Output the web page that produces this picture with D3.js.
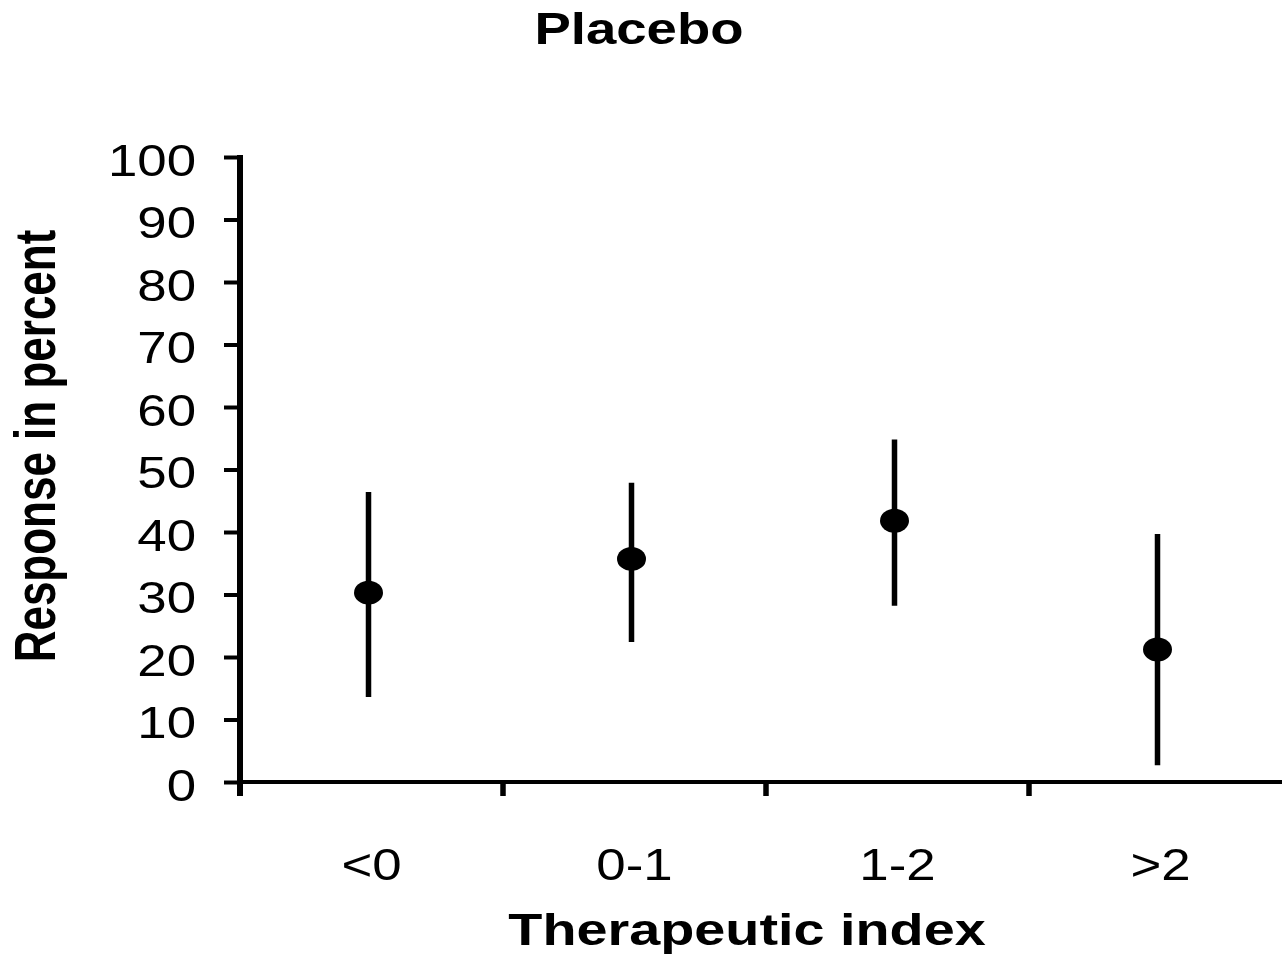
<!DOCTYPE html>
<html>
<head>
<meta charset="utf-8">
<script src="https://cdn.jsdelivr.net/npm/d3@7"></script>
<style>
  body { margin: 0; background: #fff; }
  svg { display: block; font-family: "Liberation Sans", Arial, sans-serif; }
</style>
</head>
<body>
<svg id="chart" width="1282" height="969"></svg>
<script>
// Placebo response by therapeutic index
const categories = ['<0', '0-1', '1-2', '>2'];
const means = [30.3, 35.7, 41.8, 21.2];
const lower = [13.6, 22.4, 28.2, 2.7];
const upper = [46.4, 47.9, 54.8, 39.7];
const yTicks = [0, 10, 20, 30, 40, 50, 60, 70, 80, 90, 100];

const SX = 1.24; // the original figure is stretched horizontally
const AXIS_X = 240;
const BAND = 263;

const svg = d3.select('#chart');

const x = d3.scaleBand()
    .domain(categories)
    .range([AXIS_X, AXIS_X + BAND * categories.length])
    .padding(0);

const y = d3.scaleLinear()
    .domain([0, 100])
    .range([782, 157]);

const rows = categories.map((c, i) => ({ cat: c, mean: means[i], lo: lower[i], hi: upper[i] }));

// title
svg.append('text')
    .attr('transform', `translate(639,44) scale(${SX},1)`)
    .attr('text-anchor', 'middle')
    .style('font-size', '44px')
    .style('font-weight', 'bold')
    .text('Placebo');

// y axis
const yAxis = svg.append('g')
    .attr('transform', `translate(${AXIS_X},0)`)
    .call(d3.axisLeft(y).tickValues(yTicks).tickSize(16).tickSizeOuter(0));
yAxis.select('.domain').remove();
yAxis.selectAll('.tick line').attr('stroke', '#000').attr('stroke-width', 4);
yAxis.selectAll('.tick text')
    .attr('x', null).attr('dy', null)
    .attr('transform', `translate(-44,18) scale(1.2,1)`)
    .attr('text-anchor', 'end')
    .attr('fill', '#000')
    .style('font-size', '44px')
    .style('font-family', '"Liberation Sans", Arial, sans-serif');

svg.append('line')
    .attr('x1', AXIS_X).attr('x2', AXIS_X)
    .attr('y1', y(100) - 2).attr('y2', y(0) + 14)
    .attr('stroke', '#000').attr('stroke-width', 6);

// x axis
svg.append('line')
    .attr('x1', AXIS_X).attr('x2', 1282)
    .attr('y1', y(0)).attr('y2', y(0))
    .attr('stroke', '#000').attr('stroke-width', 4);

svg.append('g').selectAll('line')
    .data(categories.slice(1))
    .join('line')
    .attr('x1', d => x(d)).attr('x2', d => x(d))
    .attr('y1', y(0)).attr('y2', y(0) + 14)
    .attr('stroke', '#000').attr('stroke-width', 5.5);

svg.append('g').selectAll('text')
    .data(categories)
    .join('text')
    .attr('transform', d => `translate(${x(d) + x.bandwidth() / 2},880) scale(1.2,1)`)
    .attr('text-anchor', 'middle')
    .style('font-size', '44px')
    .text(d => d);

// error bars and means
const marks = svg.append('g');
marks.selectAll('.err')
    .data(rows)
    .join('line')
    .attr('class', 'err')
    .attr('x1', d => x(d.cat) + x.bandwidth() / 2 - 3)
    .attr('x2', d => x(d.cat) + x.bandwidth() / 2 - 3)
    .attr('y1', d => y(d.hi))
    .attr('y2', d => y(d.lo))
    .attr('stroke', '#000').attr('stroke-width', 5.5);

marks.selectAll('.pt')
    .data(rows)
    .join('ellipse')
    .attr('class', 'pt')
    .attr('cx', d => x(d.cat) + x.bandwidth() / 2 - 3)
    .attr('cy', d => y(d.mean))
    .attr('rx', 14.5).attr('ry', 12)
    .attr('fill', '#000');

// axis titles
svg.append('text')
    .attr('transform', `translate(747,945) scale(${SX},1)`)
    .attr('text-anchor', 'middle')
    .style('font-size', '45px')
    .style('font-weight', 'bold')
    .text('Therapeutic index');

svg.append('text')
    .attr('transform', `translate(55,446) scale(1.3,1) rotate(-90)`)
    .attr('text-anchor', 'middle')
    .style('font-size', '44px')
    .style('font-weight', 'bold')
    .text('Response in percent');
</script>
</body>
</html>
